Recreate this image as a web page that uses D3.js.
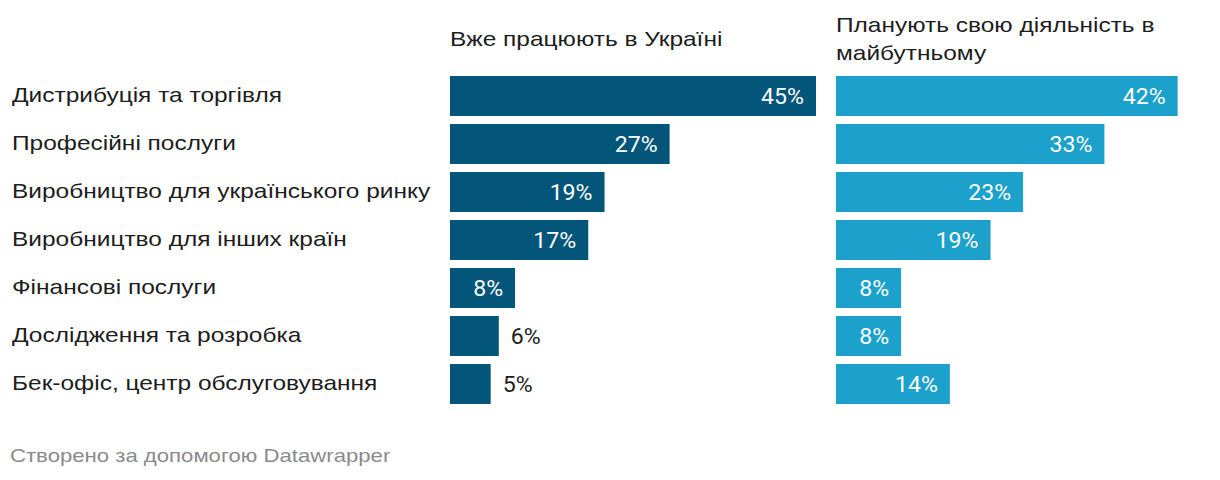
<!DOCTYPE html>
<html><head><meta charset="utf-8">
<script src="https://cdn.jsdelivr.net/npm/d3@7"></script>
<style>
body{margin:0;background:#fff;}
</style></head>
<body><svg id="c" width="1220" height="480"></svg>
<script>
const categories = ["Дистрибуція та торгівля","Професійні послуги","Виробництво для українського ринку","Виробництво для інших країн","Фінансові послуги","Дослідження та розробка","Бек-офіс, центр обслуговування"];
const seriesNames = ["Вже працюють в Україні","Планують свою діяльність в майбутньому"];
const headerLines = [["Вже працюють в Україні"],["Планують свою діяльність в","майбутньому"]];
const current = [45,27,19,17,8,6,5];
const planned = [42,33,23,19,8,8,14];
const colors = ["#03557a","#1ba1cc"];

const labelFont = "'Liberation Sans', Arial, sans-serif";
const valueFont = "Roboto, 'Noto Sans', sans-serif";
const stretch = 1.165, vstretch = 1.05;
const svg = d3.select("#c");
const y = d3.scaleBand().domain(categories).range([72,408]).paddingInner(8/48).paddingOuter(4/48);
const x = d3.scaleLinear().domain([0,45]).range([0,366]);
const panelX = [450,836];
const fs = 21, vfs = 22;

function widen(sel, k){
  sel.each(function(){
    const w = this.getComputedTextLength();
    d3.select(this).attr("textLength", w*k).attr("lengthAdjust","spacingAndGlyphs");
  });
}

svg.append("g").selectAll("text").data(categories).join("text")
  .attr("x",12).attr("y",d=>y(d)+y.bandwidth()/2).attr("dy","0.3em")
  .attr("font-family",labelFont).attr("font-size",fs).attr("fill","#1d1d1d").text(d=>d)
  .call(widen, stretch);

// headers
headerLines.forEach((lines,i)=>{
  const top = 46 - (lines.length-1)*14;
  svg.append("g").selectAll("text").data(lines).join("text")
    .attr("x",panelX[i]).attr("y",(d,k)=>top+k*28)
    .attr("font-family",labelFont).attr("font-size",fs).attr("fill","#1d1d1d").text(d=>d)
    .call(widen, stretch);
});

[current,planned].forEach((vals,i)=>{
  const g = svg.append("g").attr("transform",`translate(${panelX[i]},0)`);
  g.selectAll("rect").data(vals).join("rect")
    .attr("x",0).attr("y",(d,j)=>y(categories[j])).attr("height",y.bandwidth())
    .attr("width",d=>x(d)).attr("fill",colors[i]);
  g.selectAll("text").data(vals).join("text")
    .attr("y",(d,j)=>y(categories[j])+y.bandwidth()/2).attr("dy","0.35em")
    .attr("font-family",valueFont).attr("font-size",vfs)
    .each(function(d){
      const inside = x(d) > 60;
      d3.select(this).attr("x", inside ? x(d)-12 : x(d)+12)
        .attr("text-anchor", inside ? "end":"start")
        .attr("fill", inside ? "#fff" : "#1d1d1d");
    })
    .text(d=>d+"%")
    .call(widen, vstretch);
});

svg.append("text").attr("x",10).attr("y",462).attr("font-family",labelFont).attr("font-size",19).attr("fill","#8a8a8a").text("Створено за допомогою Datawrapper")
  .call(widen, stretch);
</script></body></html>
